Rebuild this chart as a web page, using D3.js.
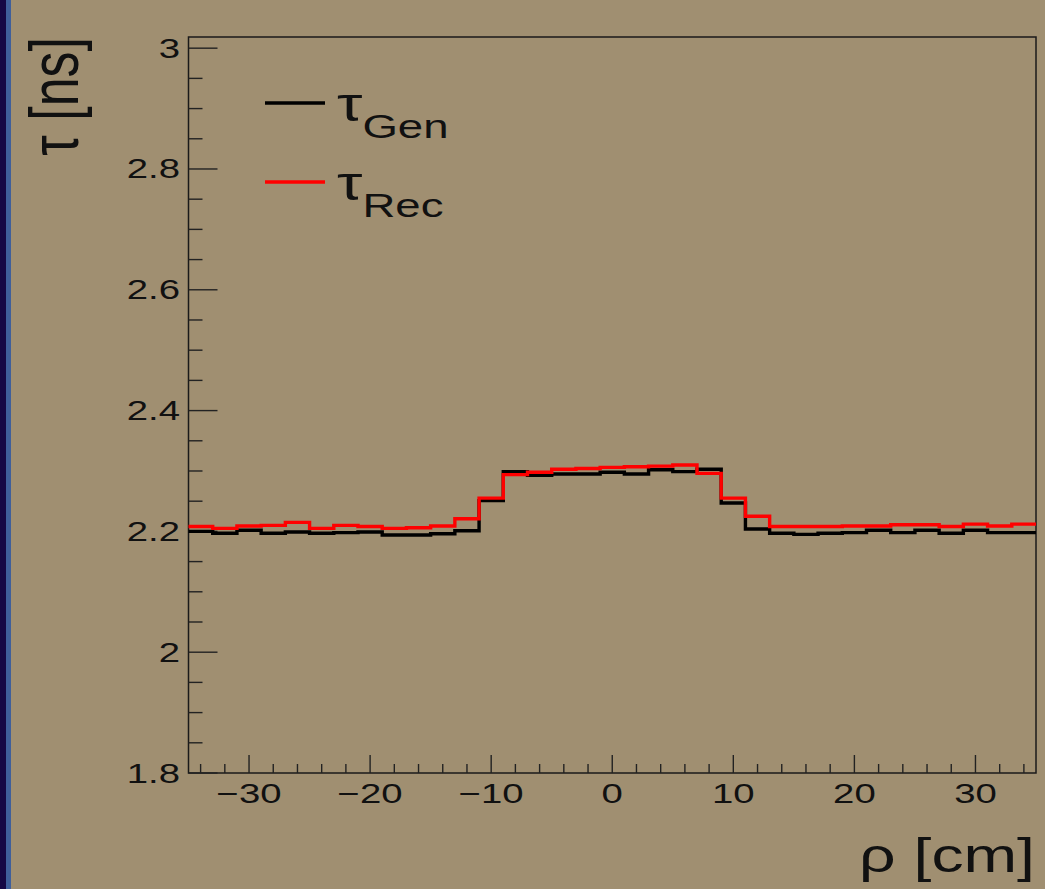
<!DOCTYPE html>
<html>
<head>
<meta charset="utf-8">
<script src="https://cdn.jsdelivr.net/npm/d3@7"></script>
<style>
  html, body { margin: 0; padding: 0; background: #a08f71; }
  svg { display: block; }
  text { font-family: "Liberation Sans", Arial, Helvetica, sans-serif; fill: #111; }
</style>
</head>
<body>
<svg id="chart" width="1045" height="889"></svg>
<script>
// Histogram binning: 35 bins of 2 cm from -35 to 35 cm
const binLow = -35;
const binWidth = 2;

// Mean lifetime per rho bin [ns]
const tauGen = [
  2.200, 2.197, 2.202, 2.197, 2.199, 2.197, 2.198, 2.199, 2.194, 2.194,
  2.196, 2.201, 2.251, 2.299, 2.293, 2.295, 2.295, 2.298, 2.295, 2.302,
  2.299, 2.303, 2.247, 2.204, 2.197, 2.195, 2.197, 2.198, 2.202, 2.198,
  2.202, 2.197, 2.202, 2.198, 2.198
];
const tauRec = [
  2.208, 2.205, 2.209, 2.210, 2.215, 2.205, 2.210, 2.208, 2.205, 2.206,
  2.209, 2.221, 2.255, 2.294, 2.298, 2.303, 2.304, 2.306, 2.307, 2.308,
  2.310, 2.296, 2.255, 2.225, 2.208, 2.208, 2.208, 2.209, 2.209, 2.211,
  2.211, 2.208, 2.212, 2.209, 2.212
];

const xTicks = [-30, -20, -10, 0, 10, 20, 30];
const yTicks = [1.8, 2, 2.2, 2.4, 2.6, 2.8, 3];
const seriesNames = ["Gen", "Rec"];
const seriesColors = ["#000000", "#ff0000"];

const xDomain = [-35, 35];
const yDomain = [1.8, 3.0185];

const svg = d3.select("#chart");
const W = 1045, H = 889;
const frame = { left: 188.5, right: 1036, top: 37, bottom: 773 };
const stretch = 1.42;   // horizontal text stretch of the canvas

// background and left window edge
svg.append("rect").attr("width", W).attr("height", H).attr("fill", "#a08f71");
svg.append("rect").attr("x", 0).attr("y", 0).attr("width", 6).attr("height", H).attr("fill", "#150845");
svg.append("rect").attr("x", 6).attr("y", 0).attr("width", 5).attr("height", H).attr("fill", "#3f5f9b");

const x = d3.scaleLinear().domain(xDomain).range([frame.left, frame.right]);
const y = d3.scaleLinear().domain(yDomain).range([frame.bottom, frame.top]);

// frame
svg.append("rect")
  .attr("x", frame.left).attr("y", frame.top)
  .attr("width", frame.right - frame.left).attr("height", frame.bottom - frame.top)
  .attr("fill", "none").attr("stroke", "#1a1a1a").attr("stroke-width", 1.5);

const tickStroke = "#222";

// x ticks: major every 10, minor every 2
const xMinor = d3.range(-34, 35, 2);
svg.append("g").selectAll("line").data(xMinor).join("line")
  .attr("x1", d => x(d)).attr("x2", d => x(d))
  .attr("y1", frame.bottom).attr("y2", d => frame.bottom - (xTicks.includes(d) ? 18 : 9))
  .attr("stroke", tickStroke).attr("stroke-width", 1.4);

svg.append("g").selectAll("text").data(xTicks).join("text")
  .attr("transform", d => `translate(${x(d)},803) scale(${stretch},1)`)
  .attr("text-anchor", "middle")
  .attr("font-size", 27)
  .text(d => d < 0 ? "\u2212" + Math.abs(d) : String(d));

// y ticks: major every 0.2, minor every 0.05
const yMinor = d3.range(0, 25).map(i => +(1.8 + i * 0.05).toFixed(2));
svg.append("g").selectAll("line").data(yMinor).join("line")
  .attr("x1", frame.left).attr("x2", d => frame.left + (yTicks.some(t => Math.abs(t - d) < 1e-6) ? 29 : 14))
  .attr("y1", d => y(d)).attr("y2", d => y(d))
  .attr("stroke", tickStroke).attr("stroke-width", 1.4);

svg.append("g").selectAll("text").data(yTicks).join("text")
  .attr("transform", d => `translate(180,${y(d) + 9.5}) scale(${stretch},1)`)
  .attr("text-anchor", "end")
  .attr("font-size", 27)
  .text(d => String(d));

// axis titles
svg.append("text")
  .attr("transform", `translate(1035,872) scale(1.34,1)`)
  .attr("text-anchor", "end")
  .attr("font-size", 48)
  .text("\u03c1 [cm]");

svg.append("text")
  .attr("transform", `translate(78,37) rotate(-90) scale(1,1.3)`)
  .attr("text-anchor", "end")
  .attr("font-size", 52)
  .text("\u03c4 [ns]");

// histogram step lines
const stepPoints = vals => {
  const pts = vals.map((v, i) => [binLow + i * binWidth, v]);
  pts.push([binLow + vals.length * binWidth, vals[vals.length - 1]]);
  return pts;
};
const line = d3.line().x(d => x(d[0])).y(d => y(d[1])).curve(d3.curveStepAfter);

[tauGen, tauRec].forEach((vals, k) => {
  svg.append("path")
    .attr("d", line(stepPoints(vals)))
    .attr("fill", "none")
    .attr("stroke", seriesColors[k])
    .attr("stroke-width", 3.4)
    .attr("stroke-linejoin", "miter");
});

// legend
const legendRows = [103, 182];
seriesNames.forEach((name, k) => {
  const ly = legendRows[k];
  svg.append("line")
    .attr("x1", 265).attr("x2", 325).attr("y1", ly).attr("y2", ly)
    .attr("stroke", seriesColors[k]).attr("stroke-width", 3.4);
  const t = svg.append("text")
    .attr("transform", `translate(337,${ly + 18}) scale(1.34,1)`)
    .attr("font-size", 48);
  t.append("tspan").text("\u03c4");
  t.append("tspan").attr("font-size", 34).attr("dy", 17).text(name);
});
</script>
</body>
</html>
